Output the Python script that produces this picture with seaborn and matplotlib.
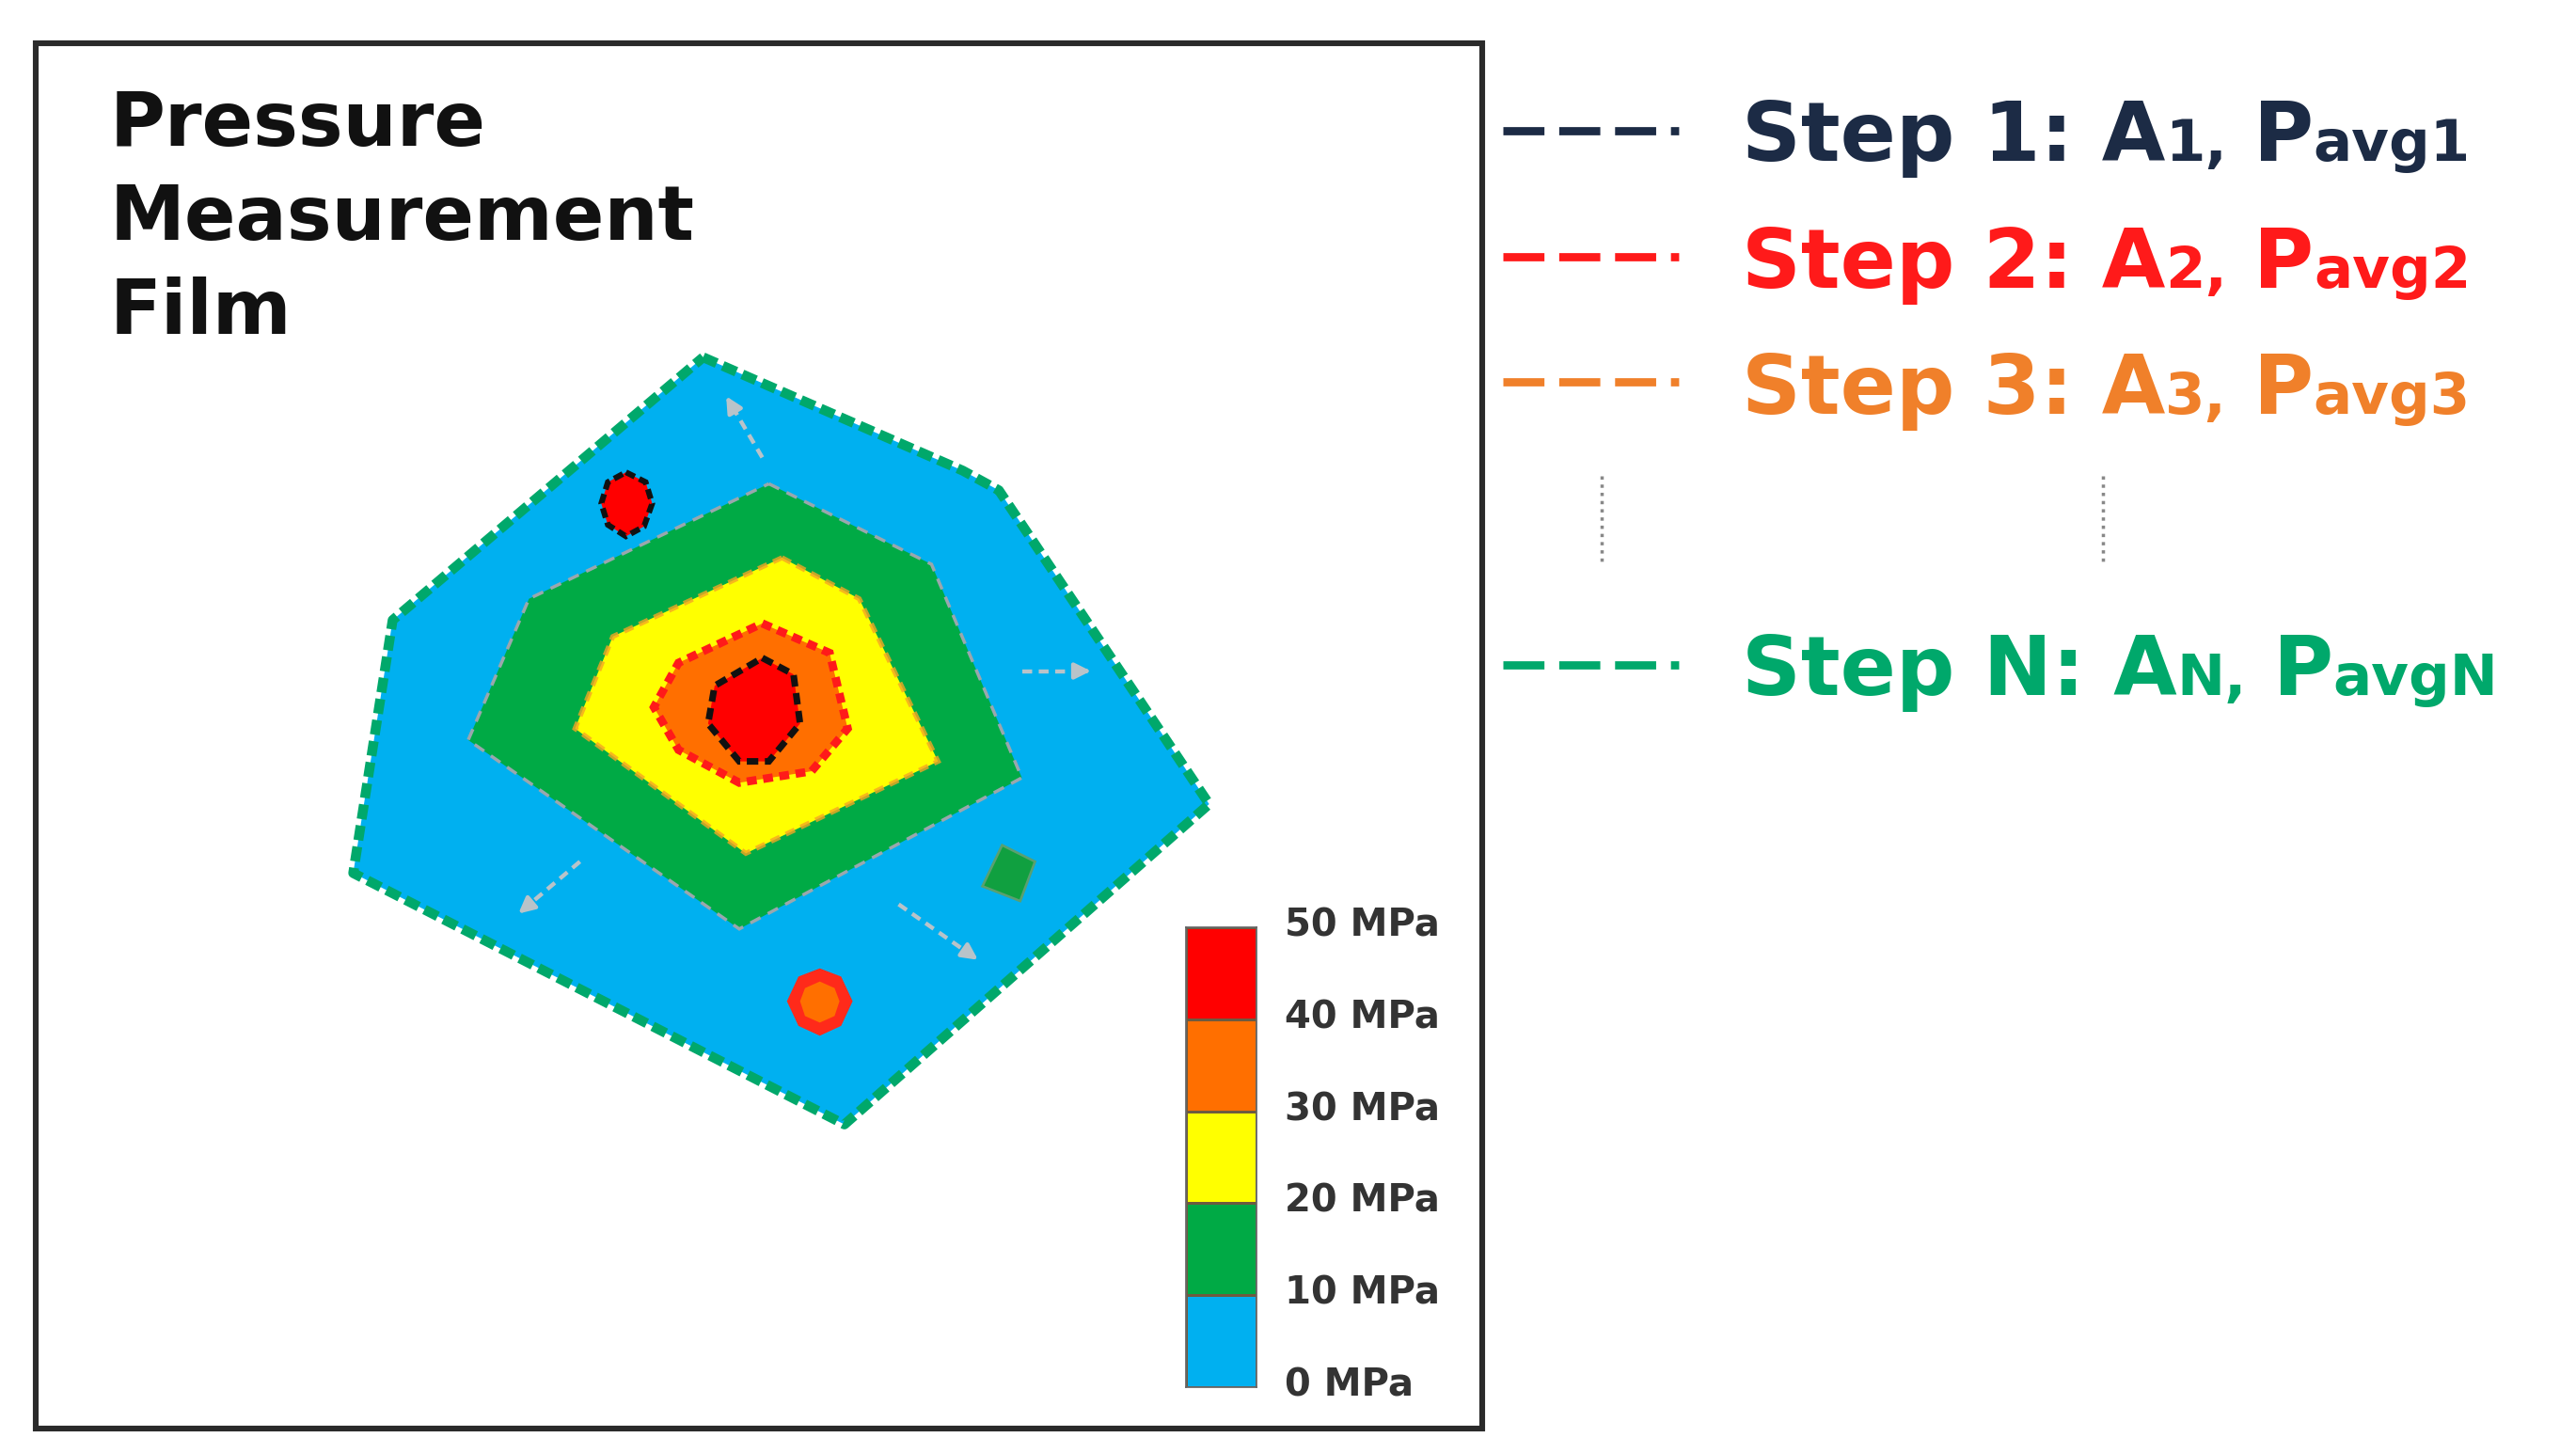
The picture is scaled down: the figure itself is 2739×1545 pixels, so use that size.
import numpy as np
import pandas as pd
import seaborn as sns
import matplotlib.pyplot as plt
from matplotlib.patches import Polygon, Rectangle
from matplotlib.colors import ListedColormap
from matplotlib.transforms import ScaledTranslation

# pressure bands, top of the scale first
band_labels = ["50 MPa", "40 MPa", "30 MPa", "20 MPa", "10 MPa", "0 MPa"]
band_colors = ["#ff0000", "#ff6f00", "#ffff00", "#00aa45", "#00b0f0"]
band_levels = [4, 3, 2, 1, 0]

# contour outlines (image pixel coords)
film_outer = [(428, 218), (586, 287), (608, 299), (736, 490), (514, 685), (215, 532), (239, 378)]
film_green = [(468, 295), (567, 344), (622, 474), (450, 566), (285, 451), (322, 365)]
film_yellow = [(476, 340), (523, 365), (571, 464), (454, 520), (350, 444), (373, 388)]
film_orange = [(464, 380), (505, 398), (516, 444), (494, 470), (450, 477), (413, 457), (398, 431), (413, 404)]
film_red = [(464, 401), (483, 411), (487, 441), (468, 464), (450, 464), (431, 441), (435, 418)]
spot_red = [(381, 288), (393, 294), (397, 307), (392, 321), (381, 327), (370, 320), (366, 307), (370, 294)]
spot_orange_rim = [(499, 590), (512, 595), (519, 610), (512, 625), (499, 631), (486, 625), (479, 610), (486, 595)]
spot_orange = [(499, 598), (508, 602), (511, 610), (508, 619), (499, 623), (490, 619), (487, 610), (490, 602)]
spot_green = [(610, 515), (630, 525), (621, 549), (598, 540)]

# growth arrows (start, end)
arrows = [((464, 279), (441, 240)), ((622, 409), (666, 409)),
          ((353, 525), (314, 558)), ((547, 551), (597, 586))]

step_names = ["1", "2", "3", "N"]
step_colors = ["#1c2b45", "#ff1a1a", "#f0802a", "#00a86b"]
step_line_y = [80, 157, 233, 405]
step_base_y = [98, 175, 252, 423]

sns.set_theme(style="white")
plt.rcParams["font.family"] = ["DejaVu Sans"]
plt.rcParams["lines.scale_dashes"] = False

W, H = 1568, 885
fig = plt.figure(figsize=(W / 72, H / 72), dpi=2739 / (W / 72))
ax = fig.add_axes([0, 0, 1, 1])
ax.set_xlim(0, W)
ax.set_ylim(H, 0)
ax.axis("off")

# film frame
ax.add_patch(Rectangle((22, 27), 880, 843, fill=False, lw=3.5, ec="#2a2a2a", zorder=10))
for i, line in enumerate(["Pressure", "Measurement", "Film"]):
    ax.text(67, 89 + 57 * i, line, fontsize=46, fontweight="bold", color="#111", va="baseline")

# pressure map
ax.add_patch(Polygon(film_outer, closed=True, fc=band_colors[4], ec=step_colors[3], lw=6,
                     ls=(0, (9, 4)), joinstyle="round", zorder=1))
ax.add_patch(Polygon(film_green, closed=True, fc=band_colors[3], ec="none", zorder=2))
ax.add_patch(Polygon(film_green, closed=True, fill=False, ec="#9aa7ad", lw=2, ls=(0, (7, 5)), zorder=2.5))
ax.add_patch(Polygon(film_yellow, closed=True, fc=band_colors[2], ec="none", zorder=3))
ax.add_patch(Polygon(film_yellow, closed=True, fill=False, ec="#f5a623", lw=3, ls=(0, (6, 4)), alpha=0.8, zorder=3.5))
ax.add_patch(Polygon(film_orange, closed=True, fc=band_colors[1], ec=step_colors[1], lw=5,
                     ls=(0, (6, 4)), zorder=4))
ax.add_patch(Polygon(film_red, closed=True, fc=band_colors[0], ec="#111", lw=4, ls=(0, (7, 4)), zorder=5))

ax.add_patch(Polygon(spot_red, closed=True, fc=band_colors[0], ec="#111", lw=3.5, ls=(0, (6, 3)), zorder=5))
ax.add_patch(Polygon(spot_orange_rim, closed=True, fc="#ff2a1a", ec="none", zorder=5))
ax.add_patch(Polygon(spot_orange, closed=True, fc=band_colors[1], ec="none", zorder=5.5))
ax.add_patch(Polygon(spot_green, closed=True, fc="#10a040", ec="#5aa070", lw=1.5, zorder=5))

for (x0, y0), (x1, y1) in arrows:
    xm, ym = x0 + 0.8 * (x1 - x0), y0 + 0.8 * (y1 - y0)
    ax.plot([x0, xm], [y0, ym], color="#b9c3c9", lw=2.5, ls=(0, (6, 4)), zorder=6)
    ax.annotate("", xy=(x1, y1), xytext=(xm, ym),
                arrowprops=dict(arrowstyle="-|>", color="#b9c3c9", lw=2.5, mutation_scale=20), zorder=6)

# colour scale
cax = fig.add_axes([722 / W, 1 - 845 / H, 43 / W, 280 / H])
scale = pd.DataFrame({"level": band_levels})
sns.heatmap(scale, cmap=ListedColormap(band_colors[::-1]), vmin=-0.5, vmax=4.5, cbar=False,
            linewidths=1.5, linecolor="#6e5a40", xticklabels=False, yticklabels=False, ax=cax)
cax.yaxis.tick_right()
cax.set_yticks(range(len(band_labels)))
cax.set_yticklabels(band_labels, fontsize=23, fontweight="bold", color="#333", rotation=0)
cax.tick_params(axis="y", length=0, pad=17)
lift = ScaledTranslation(0, 4 / 72, fig.dpi_scale_trans)
for lab in cax.get_yticklabels():
    lab.set_transform(lab.get_transform() + lift)
for sp in cax.spines.values():
    sp.set_visible(True)
    sp.set_color("#666")
    sp.set_linewidth(1)

# step legend
fig.canvas.draw()
renderer = fig.canvas.get_renderer()
inv = ax.transData.inverted()
for name, color, ly, by in zip(step_names, step_colors, step_line_y, step_base_y):
    ax.plot([915, 1025], [ly, ly], color=color, lw=5, solid_capstyle="butt",
            ls=(0, (25, 9, 25, 9, 25, 9, 5, 60)))
    x = 1060
    for s, size, gap in [(f"Step {name}: A", 50, 0), (f"{name},", 35, 16), ("P", 50, 0), (f"avg{name}", 35, 0)]:
        t = ax.text(x, by, s, fontsize=size, fontweight="bold", color=color, va="baseline", ha="left")
        bb = t.get_window_extent(renderer)
        x = inv.transform((bb.x1, bb.y0))[0] + gap

for xd in [975, 1280]:
    ax.plot([xd, xd], [290, 345], color="#888", lw=2, ls=(0, (2, 3)))

fig.savefig("out.png", dpi=fig.dpi, facecolor="white")
